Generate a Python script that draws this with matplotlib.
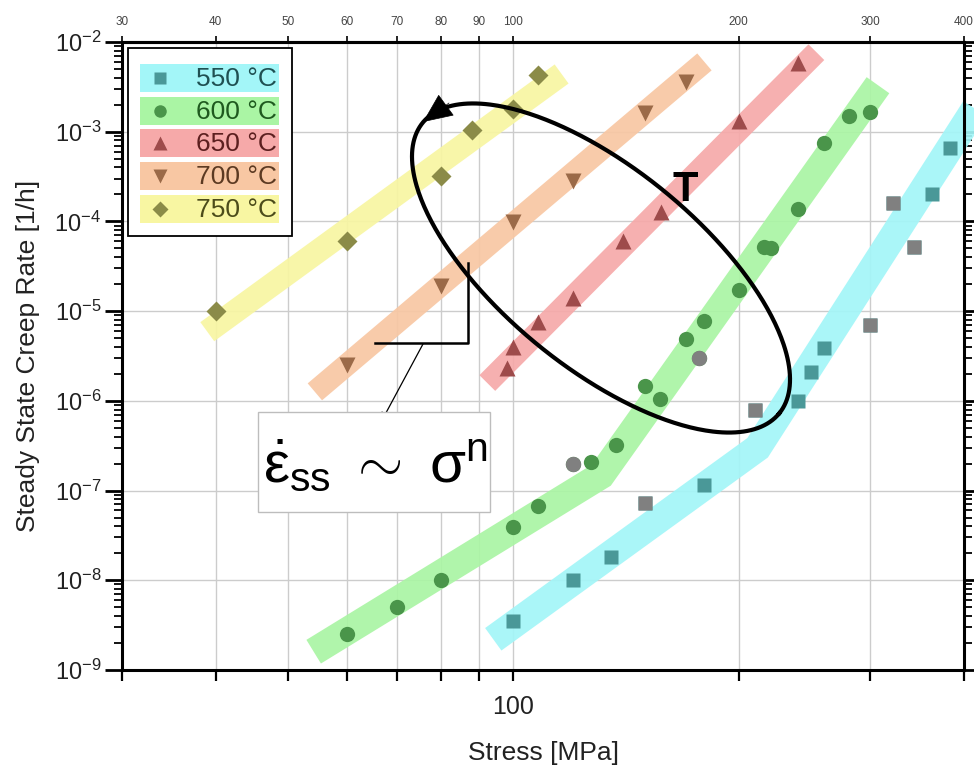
import numpy as np
import matplotlib
matplotlib.use("Agg")
import matplotlib.pyplot as plt
from matplotlib.ticker import FixedLocator, NullFormatter, NullLocator, LogLocator
from matplotlib.patches import Rectangle
from matplotlib.lines import Line2D

plt.rcParams['font.family'] = ['Liberation Sans', 'DejaVu Sans']
plt.rcParams['mathtext.fontset'] = 'custom'
plt.rcParams['mathtext.rm'] = 'Liberation Sans'
plt.rcParams['mathtext.it'] = 'Liberation Sans:italic'
plt.rcParams['mathtext.bf'] = 'Liberation Sans:bold'

# ---- data (stress in MPa, steady state creep rate in 1/h) ----
temps = ['550 °C', '600 °C', '650 °C', '700 °C', '750 °C']

x550 = [100, 120, 135, 150, 180, 210, 240, 250, 260, 300, 322, 343, 362, 383]
y550 = [3.5e-9, 1.0e-8, 1.8e-8, 7.2e-8, 1.15e-7, 8e-7, 1.0e-6, 2.1e-6, 3.9e-6,
        7e-6, 1.6e-4, 5.2e-5, 2.0e-4, 6.6e-4]
grey550 = [3, 5, 9, 10, 11]

x600 = [60, 70, 80, 100, 108, 120, 127, 137, 150, 157, 170, 177, 180, 200,
        216, 221, 240, 260, 281, 300]
y600 = [2.5e-9, 5e-9, 1e-8, 3.9e-8, 6.8e-8, 2.0e-7, 2.1e-7, 3.2e-7, 1.46e-6,
        1.05e-6, 4.9e-6, 3.0e-6, 7.8e-6, 1.7e-5, 5.2e-5, 5.1e-5, 1.37e-4,
        7.5e-4, 1.5e-3, 1.65e-3]
grey600 = [5, 11]

x650 = [98, 100, 108, 120, 140, 157.5, 200, 240]
y650 = [2.3e-6, 4e-6, 7.6e-6, 1.4e-5, 6.1e-5, 1.27e-4, 1.3e-3, 5.8e-3]

x700 = [60, 80, 100, 120, 150, 170]
y700 = [2.5e-6, 1.9e-5, 9.8e-5, 2.8e-4, 1.6e-3, 3.6e-3]

x750 = [40, 60, 80, 88, 100, 108]
y750 = [1.0e-5, 6e-5, 3.2e-4, 1.05e-3, 1.8e-3, 4.3e-3]

# fitted bands (power-law trends)
band550_x = [94, 212, 416]
band550_y = [2.2e-9, 3.0e-7, 1.94e-3]
band600_x = [54.1, 131, 307]
band600_y = [1.6e-9, 1.48e-7, 3.3e-3]
band650_x = [92.3, 254]
band650_y = [1.58e-6, 7.7e-3]
band700_x = [54.3, 180]
band700_y = [1.26e-6, 6.0e-3]
band750_x = [39, 116]
band750_y = [5.9e-6, 4.4e-3]

top_ticks = [30, 40, 50, 60, 70, 80, 90, 100, 200, 300, 400]

band_colors = ['#a3f6f8', '#aaf5a4', '#f6a9a9', '#f8c7a3', '#f8f6a2']
marker_colors = ['#4a9898', '#4a954a', '#9e4b4b', '#9b6a48', '#8b8b48']
text_colors = ['#1f5052', '#1f5a1f', '#5c1f1f', '#5c3a22', '#4c4c1a']
markers = ['s', 'o', '^', 'v', 'D']
msizes = [10, 11, 12, 12, 10]
bwidths = [20, 20, 16, 16, 17]

W, H = 974, 767
fig = plt.figure(figsize=(W / 100, H / 100), dpi=100)
fig.patch.set_facecolor('white')


def px(x, y):
    return x / W, 1 - y / H


ax = fig.add_axes([122 / W, 1 - 670 / H, (964 - 122) / W, (670 - 42) / H])
ax.set_xscale('log')
ax.set_yscale('log')

series = [
    (x550, y550, grey550, band550_x, band550_y),
    (x600, y600, grey600, band600_x, band600_y),
    (x650, y650, [], band650_x, band650_y),
    (x700, y700, [], band700_x, band700_y),
    (x750, y750, [], band750_x, band750_y),
]

for i, (xs, ys, grey, bx, by) in enumerate(series):
    ax.plot(bx, by, color=band_colors[i], lw=bwidths[i], solid_capstyle='butt',
            solid_joinstyle='miter', alpha=0.92, zorder=2, clip_on=(i != 0))
    ax.plot(xs, ys, ls='none', marker=markers[i], ms=msizes[i],
            color=marker_colors[i], mec='none', zorder=4, clip_on=False)
    if grey:
        ax.plot([xs[k] for k in grey], [ys[k] for k in grey], ls='none',
                marker=markers[i], ms=msizes[i], color='#808080', mec='none',
                zorder=4)

ax.set_xlim(30, 400)
ax.set_ylim(1e-9, 1e-2)

ax.xaxis.set_major_locator(FixedLocator([100]))
ax.xaxis.set_minor_locator(FixedLocator([t for t in top_ticks if t != 100]))
ax.xaxis.set_minor_formatter(NullFormatter())
ax.set_xticklabels(['100'])

decades = [1e-9, 1e-8, 1e-7, 1e-6, 1e-5, 1e-4, 1e-3, 1e-2]
ax.set_yticks(decades)
ax.set_yticklabels(['$10^{%d}$' % int(np.log10(d)) for d in decades])
ax.yaxis.set_minor_locator(LogLocator(base=10, subs=np.arange(2, 10), numticks=20))
ax.yaxis.set_minor_formatter(NullFormatter())

ax.grid(True, which='both', axis='x', color='#cccccc', lw=1)
ax.grid(True, which='major', axis='y', color='#cccccc', lw=1)
ax.set_axisbelow(True)

for s in ax.spines.values():
    s.set_linewidth(2.2)
    s.set_zorder(6)

ax.tick_params(axis='y', which='major', direction='out', length=12, width=2,
               labelsize=17, right=True, labelcolor='#222222', pad=3)
ax.tick_params(axis='y', which='minor', direction='out', length=6, width=1.3,
               right=True)
ax.tick_params(axis='x', which='both', direction='out', length=8, width=1.6,
               labelsize=18, labelcolor='#222222', top=False, pad=10)

sec = ax.secondary_xaxis('top')
sec.set_xticks(top_ticks)
sec.set_xticklabels([str(t) for t in top_ticks])
sec.xaxis.set_minor_locator(NullLocator())
sec.tick_params(length=4, width=1.2, labelsize=8.5, labelcolor='#444444', pad=6)
sec.spines['top'].set_linewidth(2.2)

ax.set_xlabel('Stress [MPa]', fontsize=19, color='#222222', labelpad=16)
ax.set_ylabel('Steady State Creep Rate [1/h]', fontsize=19, color='#222222',
              labelpad=10)

# ---- legend with coloured rows ----
fig.add_artist(Rectangle(px(128, 236), 164 / W, 188 / H, transform=fig.transFigure,
                         fc='white', ec='black', lw=1.3, zorder=10))
for i, name in enumerate(temps):
    yc = 78 + i * 32.7
    fig.add_artist(Rectangle(px(140, yc + 14), 139 / W, 28 / H,
                             transform=fig.transFigure, fc=band_colors[i],
                             ec='none', zorder=11))
    fig.add_artist(Line2D([px(160, yc)[0]], [px(160, yc)[1]], transform=fig.transFigure,
                          marker=markers[i], ms=msizes[i] - 2, color=marker_colors[i],
                          mec='none', ls='none', zorder=12))
    fig.text(*px(277, yc + 1), name, ha='right', va='center', fontsize=19,
             color=text_colors[i], zorder=12)

# ---- temperature ellipse ----
cx, cy, a, b, th = 601, 268, 230, 99.5, np.radians(39.2)
t = np.linspace(0, 2 * np.pi, 400)
ex = cx + a * np.cos(th) * np.cos(t) - b * np.sin(th) * np.sin(t)
ey = cy + a * np.sin(th) * np.cos(t) + b * np.cos(th) * np.sin(t)
fig.add_artist(Line2D(ex / W, 1 - ey / H, transform=fig.transFigure,
                      color='black', lw=3, zorder=8))
fig.add_artist(plt.Annotation('', xy=(423, H - 122), xytext=(449, H - 103),
                              xycoords='figure pixels',
                              arrowprops=dict(arrowstyle='-|>,head_length=0.9,head_width=0.4',
                                              color='black', lw=0.5, mutation_scale=22,
                                              shrinkA=0, shrinkB=0)))
fig.text(*px(685, 190), 'T', ha='center', va='center', fontsize=30,
         fontweight='bold', color='black', zorder=9)

# ---- power law annotation ----
fig.add_artist(Line2D([468 / W, 468 / W, 375 / W], [1 - 263 / H, 1 - 343 / H, 1 - 343 / H],
                      transform=fig.transFigure, color='black', lw=1.8, zorder=8))
fig.add_artist(plt.Annotation('', xy=(380, H - 424), xytext=(423, H - 344),
                              xycoords='figure pixels',
                              arrowprops=dict(arrowstyle='-|>,head_length=0.5,head_width=0.2',
                                              color='black', lw=0.9, mutation_scale=14,
                                              shrinkA=0, shrinkB=0)))
fig.add_artist(Rectangle(px(258, 512), 232 / W, 100 / H, transform=fig.transFigure,
                         fc='white', ec='#bdbdbd', lw=1, zorder=9))
fig.text(*px(375, 466), r'$\dot{\mathrm{\varepsilon}}_{\mathrm{ss}}\ \sim\ \mathrm{\sigma}^{\mathrm{n}}$',
         ha='center', va='center', fontsize=42, color='black', zorder=10)

fig.savefig('out.png', dpi=100, facecolor='white')
